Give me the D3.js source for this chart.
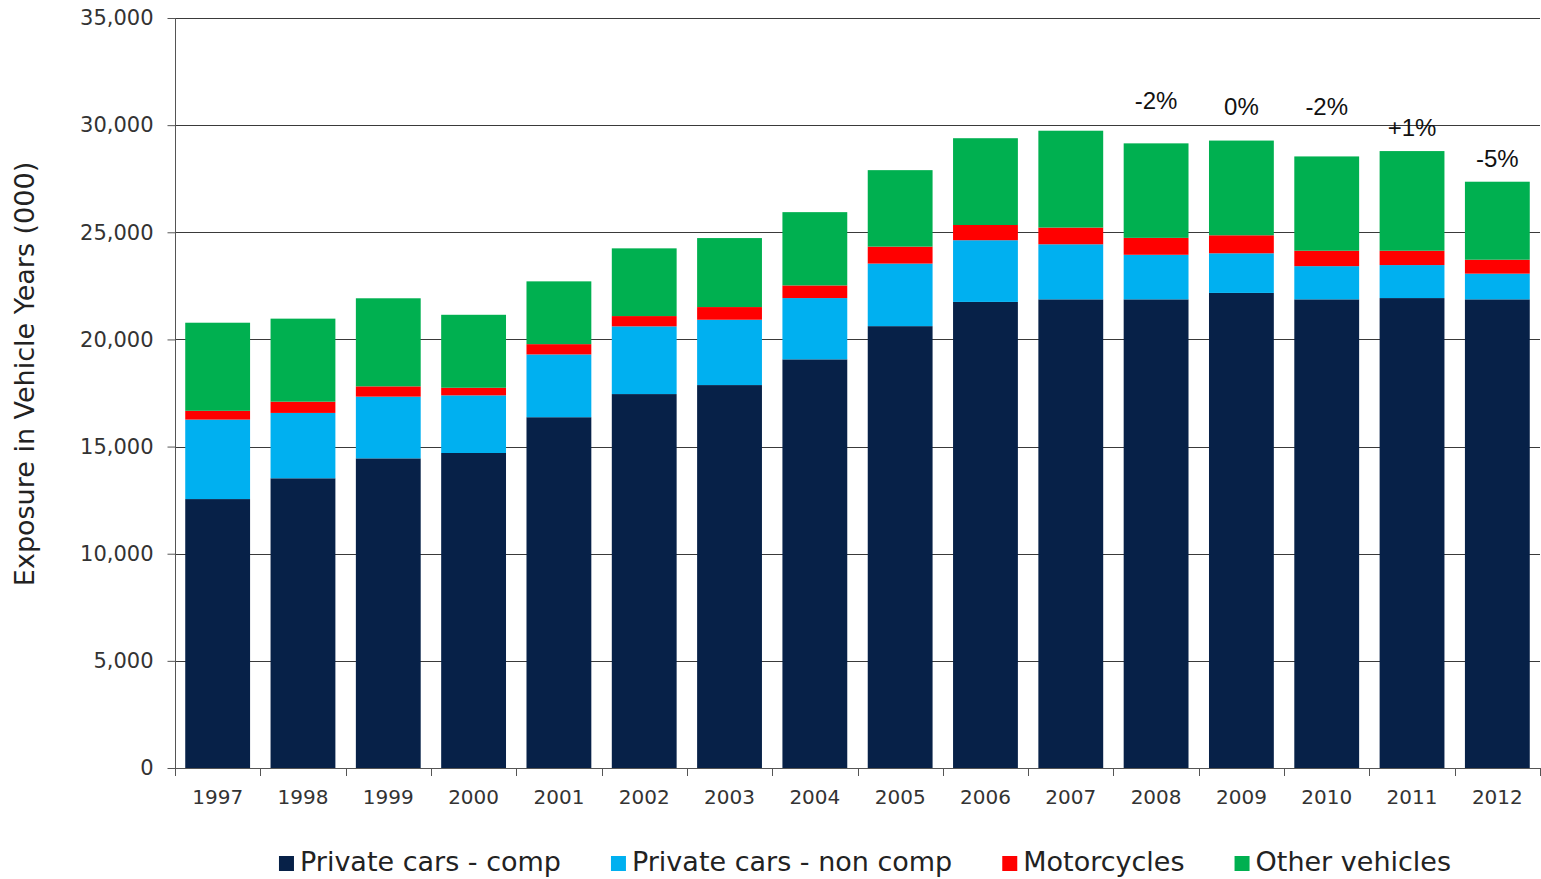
<!DOCTYPE html>
<html>
<head>
<meta charset="utf-8">
<script src="https://cdn.jsdelivr.net/npm/d3@7"></script>
<style>
  body { margin: 0; background: #fff; }
  svg { display: block; }
</style>
</head>
<body>
<div id="chart"></div>
<script>
var years = ["1997","1998","1999","2000","2001","2002","2003","2004","2005","2006","2007","2008","2009","2010","2011","2012"];
var seriesNames = ["Private cars - comp","Private cars - non comp","Motorcycles","Other vehicles"];
var seriesColors = ["#072148","#00b0f0","#ff0000","#00b050"];

var privComp    = [12550,13520,14450,14700,16370,17450,17870,19070,20620,21750,21870,21870,22170,21870,21930,21870];
var privNonComp = [3710, 3050, 2880, 2690, 2930, 3160, 3050, 2860, 2920, 2880, 2570, 2080, 1850, 1550, 1540, 1200];
var motorcycles = [410,  525,  480,  355,  480,  480,  590,  590,  790,  710,  780,  790,  840,  720,  670,  650];
var otherVeh    = [4110, 3875, 4110, 3405, 2930, 3160, 3220, 3420, 3570, 4050, 4520, 4410, 4420, 4400, 4650, 3640];

var yTicks = [0,5000,10000,15000,20000,25000,30000,35000];

// change labels: year, text, anchor value (data units)
var noteYears = ["2008","2009","2010","2011","2012"];
var noteText  = ["-2%","0%","-2%","+1%","-5%"];
var noteValue = [30750,30470,30470,29490,28050];

var width = 1541, height = 879;
var plotLeft = 175, plotRight = 1540, plotTop = 18, plotBottom = 768;

var table = years.map(function(y,i){
  return {year:y, s0:privComp[i], s1:privNonComp[i], s2:motorcycles[i], s3:otherVeh[i]};
});
var stack = d3.stack().keys(["s0","s1","s2","s3"])(table);

var svg = d3.select("#chart").append("svg")
  .attr("width",width)
  .attr("height",height)
  .style("font-family","'DejaVu Sans', Verdana, sans-serif");

var x = d3.scaleBand().domain(years).range([plotLeft,plotRight]).paddingInner(0.24).paddingOuter(0.12);
var y = d3.scaleLinear().domain([0,35000]).range([plotBottom,plotTop]);

// gridlines
svg.append("g").selectAll("line").data(yTicks.slice(1)).enter().append("line")
  .attr("x1",plotLeft).attr("x2",plotRight)
  .attr("y1",function(d){return Math.round(y(d))+0.5;})
  .attr("y2",function(d){return Math.round(y(d))+0.5;})
  .style("stroke","#3a3a3a").style("stroke-width",1);

// bars
svg.append("g").selectAll("g").data(stack).enter().append("g")
  .attr("fill",function(d,i){return seriesColors[i];})
  .selectAll("rect").data(function(d){return d;}).enter().append("rect")
  .attr("x",function(d){return x(d.data.year);})
  .attr("width",x.bandwidth())
  .attr("y",function(d){return y(d[1]);})
  .attr("height",function(d){return y(d[0])-y(d[1]);});

// y axis
var yAxis = d3.axisLeft(y).tickValues(yTicks).tickFormat(d3.format(",")).tickSize(8).tickPadding(14);
var gy = svg.append("g").attr("transform","translate("+(plotLeft+0.5)+",0)").call(yAxis);
gy.select(".domain").attr("stroke","#555").attr("d","M0,"+plotTop+"V"+(plotBottom+8));
gy.selectAll(".tick line").attr("stroke","#555");
gy.selectAll("text").style("font-size","21px").attr("fill","#333").style("font-family","'DejaVu Sans', Verdana, sans-serif");

// x axis: ticks at band boundaries
var bounds = d3.range(years.length+1).map(function(i){return plotLeft + i*(plotRight-plotLeft)/years.length;});
svg.append("line").attr("x1",plotLeft).attr("x2",plotRight).attr("y1",plotBottom+0.5).attr("y2",plotBottom+0.5)
  .style("stroke","#555");
svg.append("g").selectAll("line").data(bounds).enter().append("line")
  .attr("x1",function(d){return Math.round(d)+0.5;}).attr("x2",function(d){return Math.round(d)+0.5;})
  .attr("y1",plotBottom).attr("y2",plotBottom+8)
  .style("stroke","#555");
svg.append("g").selectAll("text").data(years).enter().append("text")
  .attr("x",function(d){return x(d)+x.bandwidth()/2;})
  .attr("y",804)
  .attr("text-anchor","middle")
  .style("font-size","20px")
  .attr("fill","#333")
  .text(function(d){return d;});

// y title
svg.append("text")
  .attr("transform","translate(34,374) rotate(-90)")
  .attr("text-anchor","middle")
  .style("font-size","27px")
  .attr("fill","#222")
  .text("Exposure in Vehicle Years (000)");

// change labels
svg.append("g").selectAll("text").data(noteYears).enter().append("text")
  .attr("x",function(d){return x(d)+x.bandwidth()/2;})
  .attr("y",function(d,i){return y(noteValue[i]);})
  .attr("text-anchor","middle")
  .style("font-family","'Liberation Sans', Arial, sans-serif")
  .style("font-size","24px")
  .attr("fill","#111")
  .text(function(d,i){return noteText[i];});

// legend
var lg = svg.append("g");
var lx = 0;
seriesNames.forEach(function(name,i){
  var item = lg.append("g").attr("transform","translate("+lx+",0)");
  item.append("rect").attr("x",0).attr("y",-15).attr("width",15).attr("height",15).attr("fill",seriesColors[i]);
  var t = item.append("text").attr("x",21).attr("y",0)
    .style("font-size","27px").attr("fill","#222").text(name);
  lx += 21 + t.node().getComputedTextLength() + 50;
});
lx -= 50;
lg.attr("transform","translate("+(865-lx/2)+",871)");
</script>
</body>
</html>
